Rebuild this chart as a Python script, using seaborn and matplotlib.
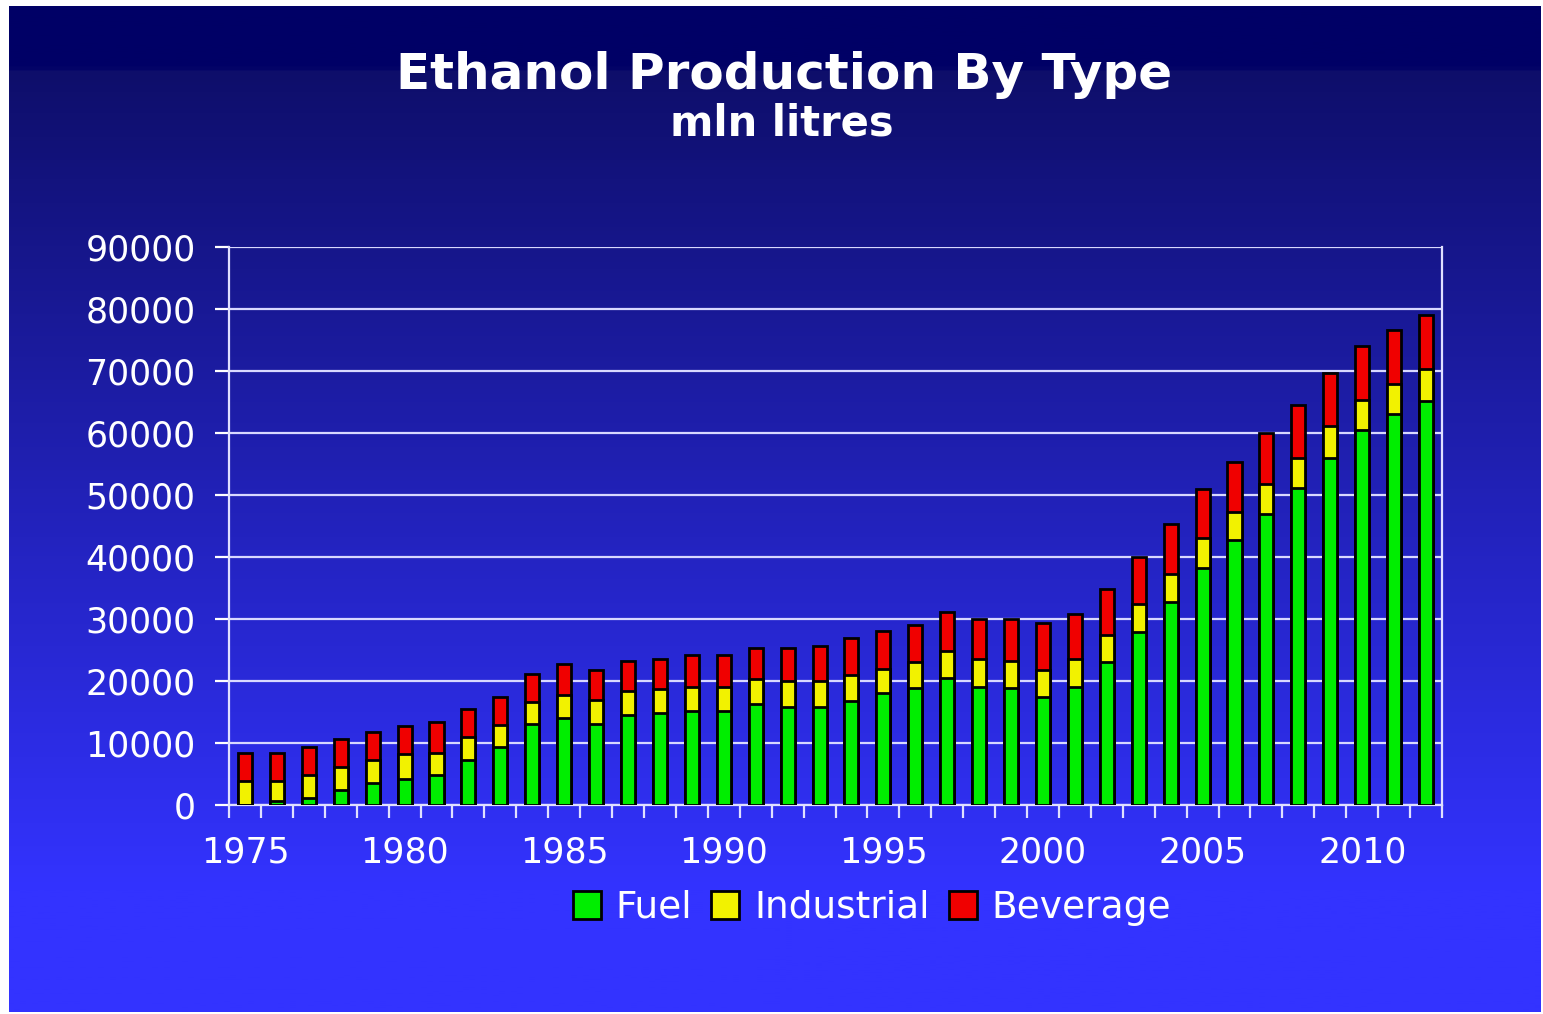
import numpy as np
import pandas as pd
import seaborn as sns
import matplotlib.pyplot as plt
from matplotlib.patches import Patch
from matplotlib.colors import LinearSegmentedColormap

# values (mln litres)
years = list(range(1975, 2013))
fuel = [0, 600, 1200, 2400, 3600, 4200, 4800, 7300, 9400, 13000,
        14000, 13000, 14500, 14800, 15100, 15100, 16300, 15800, 15800, 16700,
        18100, 18800, 20500, 19100, 18800, 17500, 19100, 23000, 27900, 32700,
        38200, 42700, 46900, 51200, 56000, 60500, 63000, 65100]
industrial = [3900, 3300, 3600, 3700, 3700, 4000, 3600, 3600, 3500, 3600,
              3800, 3900, 3900, 3900, 3900, 3900, 4000, 4200, 4200, 4200,
              3900, 4200, 4300, 4400, 4500, 4300, 4400, 4500, 4500, 4600,
              4800, 4500, 4900, 4800, 5200, 4900, 4900, 5200]
beverage = [4500, 4500, 4600, 4500, 4500, 4500, 5000, 4600, 4600, 4500,
            4900, 4900, 4900, 4900, 5200, 5200, 5100, 5400, 5700, 6000,
            6100, 6100, 6300, 6500, 6700, 7600, 7300, 7300, 7600, 8100,
            7900, 8200, 8200, 8500, 8400, 8700, 8700, 8700]

df = pd.DataFrame({"year": years, "fuel": fuel, "industrial": industrial, "beverage": beverage})
df["fuel_ind"] = df["fuel"] + df["industrial"]
df["total"] = df["fuel_ind"] + df["beverage"]

W, H = 1543, 1014
fig = plt.figure(figsize=(W / 100, H / 100), dpi=100, facecolor="white")

# gradient background panel
bg = fig.add_axes([9 / W, 2 / H, 1532 / W, 1006 / H])
grad_cmap = LinearSegmentedColormap.from_list(
    "bg", [(0.0, "#000066"), (0.058, "#000066"), (0.061, "#0e0e6a"),
           (0.88, "#3333ff"), (1.0, "#3333ff")])
bg.imshow(np.linspace(0, 1, 500).reshape(-1, 1), aspect="auto", cmap=grad_cmap,
          extent=[0, 1, 0, 1], origin="upper")
bg.set_axis_off()

ax = fig.add_axes([229 / W, (H - 805) / H, (1442 - 229) / W, (805 - 247) / H])
ax.set_facecolor("none")

bar_kw = dict(width=0.44, edgecolor="black", linewidth=2, saturation=1, ax=ax, zorder=3)
sns.barplot(data=df, x="year", y="total", color="#f00000", **bar_kw)
sns.barplot(data=df, x="year", y="fuel_ind", color="#f2f200", **bar_kw)
sns.barplot(data=df, x="year", y="fuel", color="#00ee00", **bar_kw)

ax.set_xlim(-0.5, len(years) - 0.5)
ax.set_ylim(0, 90000)
ax.set_yticks(range(0, 90001, 10000))
ax.set_yticklabels([str(v) for v in range(0, 90001, 10000)])
ax.set_xticks([i for i, y in enumerate(years) if y % 5 == 0])
ax.set_xticklabels([str(y) for y in years if y % 5 == 0])
ax.set_xticks(np.arange(-0.5, len(years), 1.0), minor=True)
ax.set_xlabel("")
ax.set_ylabel("")

ax.grid(axis="y", color="#d8d8ff", linewidth=1.6, zorder=1)
ax.set_axisbelow(True)
for side in ["left", "right", "bottom"]:
    ax.spines[side].set_color("#e0e0ff")
    ax.spines[side].set_linewidth(1.6)
ax.spines["top"].set_visible(False)

ax.tick_params(axis="y", colors="white", labelsize=25, length=10, width=1.6, pad=14)
ax.tick_params(axis="x", which="major", colors="white", labelsize=25, length=0, pad=22)
ax.tick_params(axis="x", which="minor", colors="#e0e0ff", length=9, width=1.6)
for lab in ax.get_xticklabels() + ax.get_yticklabels():
    lab.set_color("white")

fig.text(0.508, 1 - 75 / H, "Ethanol Production By Type", ha="center", va="center",
         color="white", fontsize=36, fontweight="bold")
fig.text(0.507, 1 - 124 / H, "mln litres", ha="center", va="center",
         color="white", fontsize=30, fontweight="bold")

handles = [Patch(facecolor="#00ee00", edgecolor="black", linewidth=2, label="Fuel"),
           Patch(facecolor="#f2f200", edgecolor="black", linewidth=2, label="Industrial"),
           Patch(facecolor="#f00000", edgecolor="black", linewidth=2, label="Beverage")]
leg = fig.legend(handles=handles, loc="center", bbox_to_anchor=(872 / W, 1 - 908 / H),
                 ncol=3, frameon=False, fontsize=27, handlelength=0.75, handleheight=0.75,
                 handletextpad=0.4, columnspacing=0.5)
for t in leg.get_texts():
    t.set_color("white")

fig.savefig("out.png", dpi=100, facecolor="white")
